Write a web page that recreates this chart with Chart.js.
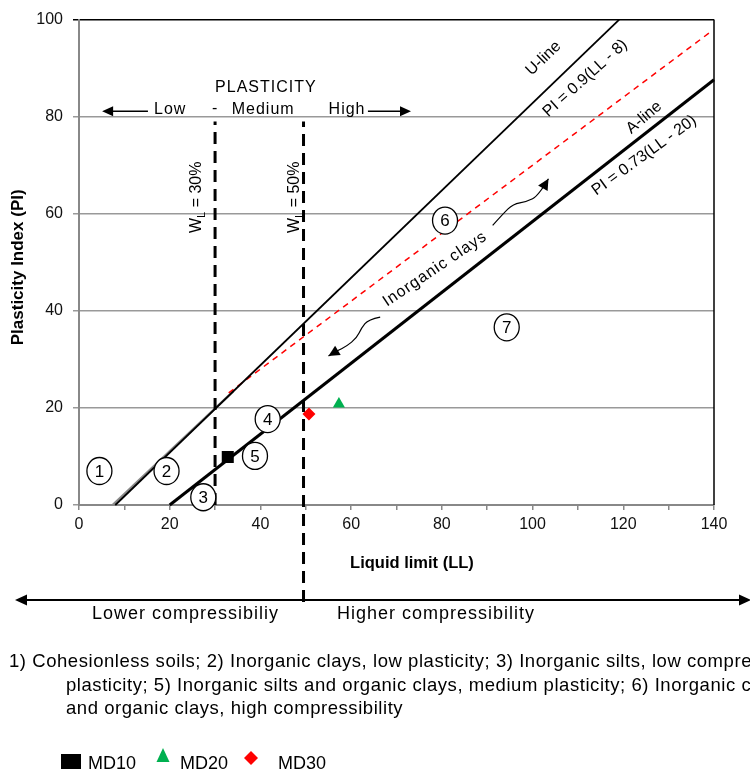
<!DOCTYPE html>
<html>
<head>
<meta charset="utf-8">
<script src="https://cdn.jsdelivr.net/npm/chart.js@4.4.1/dist/chart.umd.min.js"></script>
<style>
  body { margin: 0; background: #fff; overflow: hidden; }
  canvas { display: block; }
</style>
</head>
<body>
<canvas id="grafico" width="750" height="772"></canvas>
<script>
// muestras (LL, PI)
const muestras = ["MD10", "MD20", "MD30"];
const muestrasLL = [32.8, 57.3, 50.7];
const muestrasPI = [9.9, 20.8, 18.75];

// lineas de la carta de plasticidad
const lineaU_LL = [8, 119.1];
const lineaU_PI = [0, 100];
const lineaA_LL = [20, 140];
const lineaA_PI = [0, 87.6];
const lineaRoja_LL = [33, 139];
const lineaRoja_PI = [23.1, 97.3];
const sombraU_LL = [7.4, 34];
const sombraU_PI = [0, 23.4];
const wl30_LL = [30, 30];
const wl30_PI = [0, 79];
const wl50_LL = [49.5, 49.5];
const wl50_PI = [-20, 79];

// zonas numeradas
const zonas = ["1", "2", "3", "4", "5", "6", "7"];
const zonasLL = [4.5, 19.3, 27.4, 41.6, 38.8, 80.7, 94.3];
const zonasPI = [7, 7, 1.6, 17.7, 10.1, 58.6, 36.6];

// textos sobre el grafico
const notas = ["U-line", "PI = 0.9(LL - 8)", "A-line", "PI = 0.73(LL - 20)", "Inorganic clays", "PLASTICITY", "Low", "-", "Medium", "High"];
const notasLL = [102.4, 111.6, 124.6, 124.6, 78.5, 41.2, 20.1, 30, 40.6, 59.1];
const notasPI = [92.0, 87.9, 79.8, 72.0, 48.6, 85.9, 81.4, 81.6, 81.4, 81.4];
const notasAngulo = [-44, -42, -40, -36, -34, 0, 0, 0, 0, 0];

// flechas onduladas
const flechaArribaLL = [91.2, 93.5, 95.7, 98.7, 101.3, 103.5];
const flechaArribaPI = [57.6, 60.0, 62.0, 62.5, 63.7, 67.2];
const flechaAbajoLL = [66.4, 63.8, 62.3, 61.2, 59.0, 56.8, 55.0];
const flechaAbajoPI = [38.7, 38.2, 36.5, 34.4, 32.7, 31.7, 30.7];

const pies = [
  "1) Cohesionless soils; 2) Inorganic clays, low plasticity; 3) Inorganic silts, low compressibility; 4) Inorganic clays, medium",
  "plasticity; 5) Inorganic silts and organic clays, medium plasticity; 6) Inorganic clays, high plasticity; 7) Inorganic silts",
  "and organic clays, high compressibility"
];

const FUENTE = "Arial, 'Liberation Sans', sans-serif";

const puntos = (xs, ys) => xs.map((x, i) => ({ x: x, y: ys[i] }));

function linea(xs, ys, color, ancho, dash) {
  return {
    data: puntos(xs, ys),
    showLine: true,
    borderColor: color,
    borderWidth: ancho,
    borderDash: dash || [],
    pointRadius: 0,
    clip: false,
  };
}

const datasets = [
  {
    label: muestras[0], data: [{ x: muestrasLL[0], y: muestrasPI[0] }],
    pointStyle: "rect", pointRadius: 8.5, backgroundColor: "#000", borderWidth: 0,
  },
  {
    label: muestras[1], data: [{ x: muestrasLL[1], y: muestrasPI[1] }],
    pointStyle: "triangle", pointRadius: 7, backgroundColor: "#00b050", borderWidth: 0,
  },
  {
    label: muestras[2], data: [{ x: muestrasLL[2], y: muestrasPI[2] }],
    pointStyle: "rectRot", pointRadius: 6.5, backgroundColor: "#ff0000", borderWidth: 0,
  },
  linea(lineaU_LL, lineaU_PI, "#000", 1.8),
  linea(lineaA_LL, lineaA_PI, "#000", 3),
  linea(lineaRoja_LL, lineaRoja_PI, "#ff0000", 1.5, [6, 5]),
  linea(wl30_LL, wl30_PI, "#000", 3, [12, 7]),
  linea(wl50_LL, wl50_PI, "#000", 3, [12, 7]),
  linea(sombraU_LL, sombraU_PI, "#8a8a8a", 2.4),
];

function flechaPunta(ctx, x0, y0, x1, y1, largo, ancho) {
  const ang = Math.atan2(y1 - y0, x1 - x0);
  ctx.save();
  ctx.translate(x1, y1);
  ctx.rotate(ang);
  ctx.beginPath();
  ctx.moveTo(0, 0);
  ctx.lineTo(-largo, -ancho);
  ctx.lineTo(-largo, ancho);
  ctx.closePath();
  ctx.fill();
  ctx.restore();
}

function flechaOndulada(ctx, sx, sy, xs, ys) {
  const p = xs.map((x, i) => [sx.getPixelForValue(x), sy.getPixelForValue(ys[i])]);
  ctx.beginPath();
  ctx.moveTo(p[0][0], p[0][1]);
  for (let i = 1; i < p.length - 2; i++) {
    const mx = (p[i][0] + p[i + 1][0]) / 2;
    const my = (p[i][1] + p[i + 1][1]) / 2;
    ctx.quadraticCurveTo(p[i][0], p[i][1], mx, my);
  }
  const n = p.length;
  ctx.quadraticCurveTo(p[n - 2][0], p[n - 2][1], p[n - 1][0], p[n - 1][1]);
  ctx.stroke();
  flechaPunta(ctx, p[n - 2][0], p[n - 2][1], p[n - 1][0], p[n - 1][1], 11, 5.5);
}

function textoWL(ctx, x, y, valor) {
  ctx.save();
  ctx.translate(x, y);
  ctx.rotate(-Math.PI / 2);
  ctx.font = "16px " + FUENTE;
  ctx.textBaseline = "middle";
  const wW = ctx.measureText("W").width;
  ctx.font = "11px " + FUENTE;
  const wL = ctx.measureText("L").width;
  ctx.font = "16px " + FUENTE;
  const resto = " = " + valor;
  const wR = ctx.measureText(resto).width;
  let x0 = -(wW + wL + wR) / 2;
  ctx.textAlign = "left";
  ctx.fillText("W", x0, 0);
  ctx.font = "11px " + FUENTE;
  ctx.fillText("L", x0 + wW, 5);
  ctx.font = "16px " + FUENTE;
  ctx.fillText(resto, x0 + wW + wL, 0);
  ctx.restore();
}

const anotaciones = {
  id: "anotaciones",
  afterDraw(chart) {
    const ctx = chart.ctx;
    const sx = chart.scales.x;
    const sy = chart.scales.y;
    const area = chart.chartArea;
    ctx.save();

    // borde derecho
    ctx.strokeStyle = "#000";
    ctx.lineWidth = 1.5;
    ctx.beginPath();
    ctx.moveTo(area.right, area.top);
    ctx.lineTo(area.right, area.bottom);
    ctx.stroke();

    // zonas
    ctx.lineWidth = 1.3;
    ctx.font = "17px " + FUENTE;
    ctx.textAlign = "center";
    ctx.textBaseline = "middle";
    ctx.fillStyle = "#000";
    zonas.forEach((z, i) => {
      const px = sx.getPixelForValue(zonasLL[i]);
      const py = sy.getPixelForValue(zonasPI[i]);
      ctx.fillStyle = "#fff";
      ctx.beginPath();
      ctx.ellipse(px, py, 12.5, 13.5, 0, 0, Math.PI * 2);
      ctx.fill();
      ctx.stroke();
      ctx.fillStyle = "#000";
      ctx.fillText(z, px, py + 1);
    });

    // notas
    notas.forEach((t, i) => {
      const px = sx.getPixelForValue(notasLL[i]);
      const py = sy.getPixelForValue(notasPI[i]);
      ctx.save();
      ctx.translate(px, py);
      ctx.rotate(notasAngulo[i] * Math.PI / 180);
      ctx.font = "16px " + FUENTE;
      ctx.letterSpacing = (i >= 4) ? "1px" : "0px";
      ctx.fillText(t, 0, 0);
      ctx.restore();
    });
    ctx.letterSpacing = "0px";

    textoWL(ctx, sx.getPixelForValue(26.0), sy.getPixelForValue(63.4), "30%");
    textoWL(ctx, sx.getPixelForValue(47.6), sy.getPixelForValue(63.4), "50%");

    // flechas de plasticidad
    ctx.lineWidth = 1.5;
    const yF = sy.getPixelForValue(81.1);
    ctx.beginPath();
    ctx.moveTo(sx.getPixelForValue(15.2), yF);
    ctx.lineTo(sx.getPixelForValue(7), yF);
    ctx.moveTo(sx.getPixelForValue(63.7), yF);
    ctx.lineTo(sx.getPixelForValue(71), yF);
    ctx.stroke();
    flechaPunta(ctx, sx.getPixelForValue(15.2), yF, sx.getPixelForValue(5.1), yF, 11, 5);
    flechaPunta(ctx, sx.getPixelForValue(63.7), yF, sx.getPixelForValue(73.2), yF, 11, 5);

    // flechas onduladas
    ctx.lineWidth = 1.2;
    flechaOndulada(ctx, sx, sy, flechaArribaLL, flechaArribaPI);
    flechaOndulada(ctx, sx, sy, flechaAbajoLL, flechaAbajoPI);

    // titulos de ejes
    ctx.font = "bold 16.5px " + FUENTE;
    ctx.textAlign = "center";
    ctx.textBaseline = "middle";
    ctx.fillText("Liquid limit (LL)", sx.getPixelForValue(73.4), area.bottom + 58);
    ctx.save();
    ctx.translate(18, (area.top + area.bottom) / 2 + 5);
    ctx.rotate(-Math.PI / 2);
    ctx.font = "bold 17px " + FUENTE;
    ctx.fillText("Plasticity Index (PI)", 0, 0);
    ctx.restore();

    // compresibilidad
    const yC = 600;
    ctx.lineWidth = 2;
    ctx.beginPath();
    ctx.moveTo(26, yC);
    ctx.lineTo(740, yC);
    ctx.stroke();
    flechaPunta(ctx, 30, yC, 15, yC, 12, 5.5);
    flechaPunta(ctx, 736, yC, 751, yC, 12, 5.5);
    ctx.font = "18px " + FUENTE;
    ctx.textAlign = "left";
    ctx.textBaseline = "alphabetic";
    ctx.letterSpacing = "1px";
    ctx.fillText("Lower compressibiliy", 92, 619);
    ctx.fillText("Higher compressibility", 337, 619);

    // pie de figura
    ctx.font = "18.5px " + FUENTE;
    ctx.letterSpacing = "0.55px";
    ctx.fillText(pies[0], 9, 667);
    ctx.fillText(pies[1], 66, 691);
    ctx.fillText(pies[2], 66, 714);
    ctx.letterSpacing = "0px";

    // leyenda
    ctx.font = "18px " + FUENTE;
    ctx.fillStyle = "#000";
    ctx.fillRect(61, 754, 20, 15);
    ctx.fillText(muestras[0], 88, 769);
    ctx.fillStyle = "#00b050";
    ctx.beginPath();
    ctx.moveTo(163, 748);
    ctx.lineTo(169.5, 762);
    ctx.lineTo(156.5, 762);
    ctx.closePath();
    ctx.fill();
    ctx.fillStyle = "#000";
    ctx.fillText(muestras[1], 180, 769);
    ctx.fillStyle = "#ff0000";
    ctx.beginPath();
    ctx.moveTo(251, 751);
    ctx.lineTo(258, 758);
    ctx.lineTo(251, 765);
    ctx.lineTo(244, 758);
    ctx.closePath();
    ctx.fill();
    ctx.fillStyle = "#000";
    ctx.fillText(muestras[2], 278, 769);

    ctx.restore();
  },
};

const chart = new Chart(document.getElementById("grafico"), {
  type: "scatter",
  data: { datasets: datasets },
  options: {
    responsive: false,
    animation: false,
    layout: { padding: { left: 0, right: 36, top: 16, bottom: 0 } },
    plugins: { legend: { display: false }, tooltip: { enabled: false } },
    scales: {
      x: {
        type: "linear",
        min: 0,
        max: 140,
        afterFit: (s) => { s.height = 267; },
        ticks: {
          stepSize: 10,
          autoSkip: false,
          maxRotation: 0,
          padding: 5,
          color: "#111",
          font: { family: FUENTE, size: 16 },
          callback: (v) => (v % 20 === 0 ? v : ""),
        },
        grid: { drawOnChartArea: false, tickLength: 5, color: "#888", lineWidth: 1.5 },
        border: { color: "#888", width: 2 },
      },
      y: {
        min: 0,
        max: 100,
        afterFit: (s) => { s.width = 79; },
        ticks: {
          stepSize: 20,
          padding: 10,
          color: "#111",
          font: { family: FUENTE, size: 16 },
        },
        grid: {
          tickLength: 6,
          lineWidth: 1.5,
          color: (c) => (c.tick && c.tick.value === 100 ? "#000" : "#999"),
        },
        border: { color: "#888", width: 2 },
      },
    },
  },
  plugins: [anotaciones],
});
</script>
</body>
</html>
